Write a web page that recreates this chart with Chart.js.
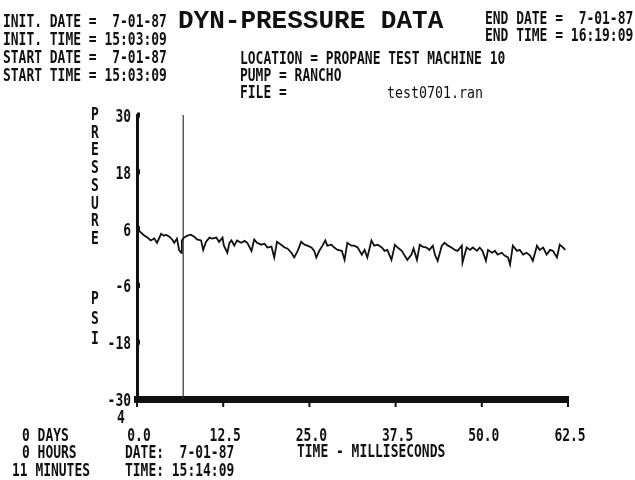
<!DOCTYPE html>
<html>
<head>
<meta charset="utf-8">
<title>DYN-PRESSURE DATA</title>
<script src="https://cdn.jsdelivr.net/npm/chart.js@4.4.1/dist/chart.umd.min.js"></script>
<style>
  html, body { margin: 0; padding: 0; background: #fff; }
  #wrap { width: 635px; height: 480px; }
</style>
</head>
<body>
<div id="wrap"><canvas id="pressureChart" width="635" height="480"></canvas></div>
<script>
// =====================
// DATA
// =====================
const timeMs = [
  0.0, 0.4, 0.9, 1.5, 2.0, 2.5, 2.9, 3.5, 3.9, 4.2, 4.7, 5.1, 5.4, 5.8, 6.1, 6.4, 6.5, 6.8, 7.3, 7.8,
  8.3, 8.7, 9.3, 9.6, 10.0, 10.5, 10.9, 11.5, 11.9, 12.4, 12.6, 13.1, 13.4, 13.7, 14.1, 14.5, 15.1, 15.6,
  16.0, 16.6, 17.0, 17.4, 18.0, 18.5, 18.9, 19.5, 19.9, 20.3, 20.9, 21.4, 21.8, 22.4, 22.8, 23.3, 23.8, 24.3,
  24.7, 25.3, 25.7, 26.0, 26.5, 26.9, 27.3, 27.6, 28.2, 28.6, 29.1, 29.7, 30.1, 30.5, 31.1, 31.5,
  32.0, 32.6, 33.0, 33.4, 34.0, 34.4, 34.9, 35.5, 35.9, 36.3, 36.9, 37.4, 37.8, 38.4, 38.8, 39.2, 39.8, 40.1,
  40.6, 41.0, 41.4, 42.0, 42.4, 42.9, 43.2, 43.6, 44.2, 44.6, 45.1, 45.6, 46.1, 46.5, 47.1, 47.2, 47.8,
  48.3, 48.7, 49.3, 49.7, 50.1, 50.6, 50.9, 51.5, 51.9, 52.3, 52.9, 53.3, 53.8, 54.1, 54.5, 55.1, 55.5, 56.0,
  56.5, 57.0, 57.4, 58.0, 58.4, 58.9, 59.4, 59.9, 60.3, 60.9, 61.3, 61.8, 62.1
];

const pressurePsi = [
  6.2, 5.4, 4.7, 4.1, 3.5, 3.9, 3.0, 4.9, 4.5, 4.7, 4.3, 3.7, 3.0, 3.9, 1.5, 0.9, 3.5, 4.1, 4.5, 4.7,
  4.3, 3.7, 3.5, 1.5, 3.2, 4.1, 3.9, 4.1, 3.2, 4.1, 2.4, 0.9, 3.0, 3.5, 2.4, 3.5, 3.0, 3.4,
  3.0, 1.3, 3.7, 3.0, 2.6, 2.8, 2.0, 2.2, -0.1, 3.2, 2.6, 2.0, 1.8, 0.9, -0.1, 1.3, 3.2, 2.6,
  2.4, 2.0, 1.3, -0.1, 1.5, 2.4, 3.5, 2.4, 2.6, 2.0, 1.5, 1.3, -0.6, 3.0, 2.4, 2.4,
  2.0, 0.5, 1.5, -0.1, 3.5, 2.4, 2.6, 2.0, 1.3, 1.5, -0.6, 2.6, 2.0, 1.3, 0.3, -0.6, 0.5, 1.8,
  -0.6, 2.6, 2.2, 2.0, 1.5, 2.4, 0.5, -0.8, 2.4, 3.0, 2.4, 2.0, 1.5, 1.3, 2.4, -1.2, 2.0,
  1.5, 2.0, 1.3, 2.0, 1.3, -0.8, 1.5, 0.9, 1.3, 0.5, 0.9, 0.3, -0.1, -1.6, 2.4, 1.3, 1.5, 0.5,
  0.9, 0.3, -0.8, 2.4, 1.5, 2.0, 0.5, 1.5, 1.3, -0.1, 2.6, 2.0, 1.5
];

// cursor line
const markerTime = [6.7, 6.7];
const markerPsi = [30, -30];

// axes
const xTicks = [0, 12.5, 25, 37.5, 50, 62.5];
const yTicks = [-30, -18, -6, 6, 18, 30];

// header / footer texts
const leftHeader = ["INIT. DATE =  7-01-87", "INIT. TIME = 15:03:09", "START DATE =  7-01-87", "START TIME = 15:03:09"];
const rightHeader = ["END DATE =  7-01-87", "END TIME = 16:19:09"];
const midHeader = ["LOCATION = PROPANE TEST MACHINE 10", "PUMP = RANCHO", "FILE ="];
const fileName = "test0701.ran";
const elapsed = ["0 DAYS", "0 HOURS", "11 MINUTES"];
const cursorInfo = ["DATE:  7-01-87", "TIME: 15:14:09"];

// =====================
// TEXT HELPERS
// =====================
const INK = "#111";
const MONO = 'bold 18px "DejaVu Sans Mono"';
const MONO_SX = 0.72;

function drawText(ctx, text, x, y, font, sx, align) {
  ctx.save();
  ctx.font = font;
  ctx.fillStyle = INK;
  ctx.textAlign = align || "left";
  ctx.textBaseline = "alphabetic";
  ctx.translate(x, y);
  ctx.scale(sx, 1);
  ctx.fillText(text, 0, 0);
  ctx.restore();
}

// =====================
// PLUGIN: labels, ticks, texts
// =====================
const decorPlugin = {
  id: "decor",
  beforeDraw(chart) {
    const ctx = chart.ctx;
    ctx.save();
    ctx.fillStyle = "#fff";
    ctx.fillRect(0, 0, chart.width, chart.height);
    ctx.restore();
  },
  afterDraw(chart) {
    const ctx = chart.ctx;
    const xs = chart.scales.x;
    const ys = chart.scales.y;
    const area = chart.chartArea;

    // y tick marks + labels
    ys.ticks.forEach(t => {
      const py = ys.getPixelForValue(t.value);
      ctx.fillStyle = INK;
      ctx.fillRect(area.left, py - 2.5, 3, 5);
      drawText(ctx, String(t.value), 131, py + 7, MONO, MONO_SX, "right");
    });

    // x tick marks + labels
    xs.ticks.forEach(t => {
      const px = xs.getPixelForValue(t.value);
      ctx.fillStyle = INK;
      ctx.fillRect(px - 1, area.bottom + 3, 2, 5);
      drawText(ctx, t.value.toFixed(1), px + 2, 441, MONO, MONO_SX, "center");
    });
    drawText(ctx, "4", 121, 423, MONO, MONO_SX, "center");

    // y axis title (stacked letters)
    "PRESSURE".split("").forEach((ch, i) => {
      drawText(ctx, ch, 95, 120 + i * 17.7, MONO, MONO_SX, "center");
    });
    "PSI".split("").forEach((ch, i) => {
      drawText(ctx, ch, 95, 304 + i * 20, MONO, MONO_SX, "center");
    });

    // header
    leftHeader.forEach((s, i) => drawText(ctx, s, 3, 27 + i * 18, MONO, MONO_SX));
    rightHeader.forEach((s, i) => drawText(ctx, s, 485, 24 + i * 17, MONO, MONO_SX));
    midHeader.forEach((s, i) => drawText(ctx, s, 240, 64 + i * 17, MONO, MONO_SX));
    drawText(ctx, fileName, 387, 98, '16px "DejaVu Sans Mono"', 0.83);
    drawText(ctx, "DYN-PRESSURE DATA", 178, 28, 'bold 26px "Liberation Mono"', 1.0);

    // footer
    drawText(ctx, elapsed[0], 22, 441, MONO, MONO_SX);
    drawText(ctx, elapsed[1], 22, 458, MONO, MONO_SX);
    drawText(ctx, elapsed[2], 12, 476, MONO, MONO_SX);
    cursorInfo.forEach((s, i) => drawText(ctx, s, 125, 458 + i * 18, MONO, MONO_SX));
    drawText(ctx, "TIME - MILLISECONDS", 297, 457, MONO, MONO_SX);
  }
};

// =====================
// CHART
// =====================
const ctxPressure = document.getElementById("pressureChart");
new Chart(ctxPressure, {
  type: "line",
  data: {
    datasets: [
      {
        data: timeMs.map((t, i) => ({ x: t, y: pressurePsi[i] })),
        borderColor: INK,
        borderWidth: 1.8,
        pointRadius: 0,
        tension: 0,
        fill: false
      },
      {
        data: markerTime.map((t, i) => ({ x: t, y: markerPsi[i] })),
        borderColor: "#333",
        borderWidth: 1.2,
        pointRadius: 0,
        fill: false
      }
    ]
  },
  options: {
    responsive: false,
    animation: false,
    devicePixelRatio: 1,
    layout: { padding: { left: 137, right: 67, top: 115, bottom: 81 } },
    plugins: {
      legend: { display: false },
      tooltip: { enabled: false }
    },
    scales: {
      x: {
        type: "linear",
        min: xTicks[0],
        max: xTicks[xTicks.length - 1],
        afterBuildTicks: s => { s.ticks = xTicks.map(v => ({ value: v })); },
        afterFit: s => { s.height = 0; },
        ticks: { display: false },
        grid: { display: false, drawTicks: false, tickLength: 0 },
        border: { display: true, color: INK, width: 7 }
      },
      y: {
        min: yTicks[0],
        max: yTicks[yTicks.length - 1],
        afterBuildTicks: s => { s.ticks = yTicks.map(v => ({ value: v })); },
        afterFit: s => { s.width = 0; },
        ticks: { display: false },
        grid: { display: false, drawTicks: false, tickLength: 0 },
        border: { display: true, color: INK, width: 3 }
      }
    }
  },
  plugins: [decorPlugin]
});
</script>
</body>
</html>
